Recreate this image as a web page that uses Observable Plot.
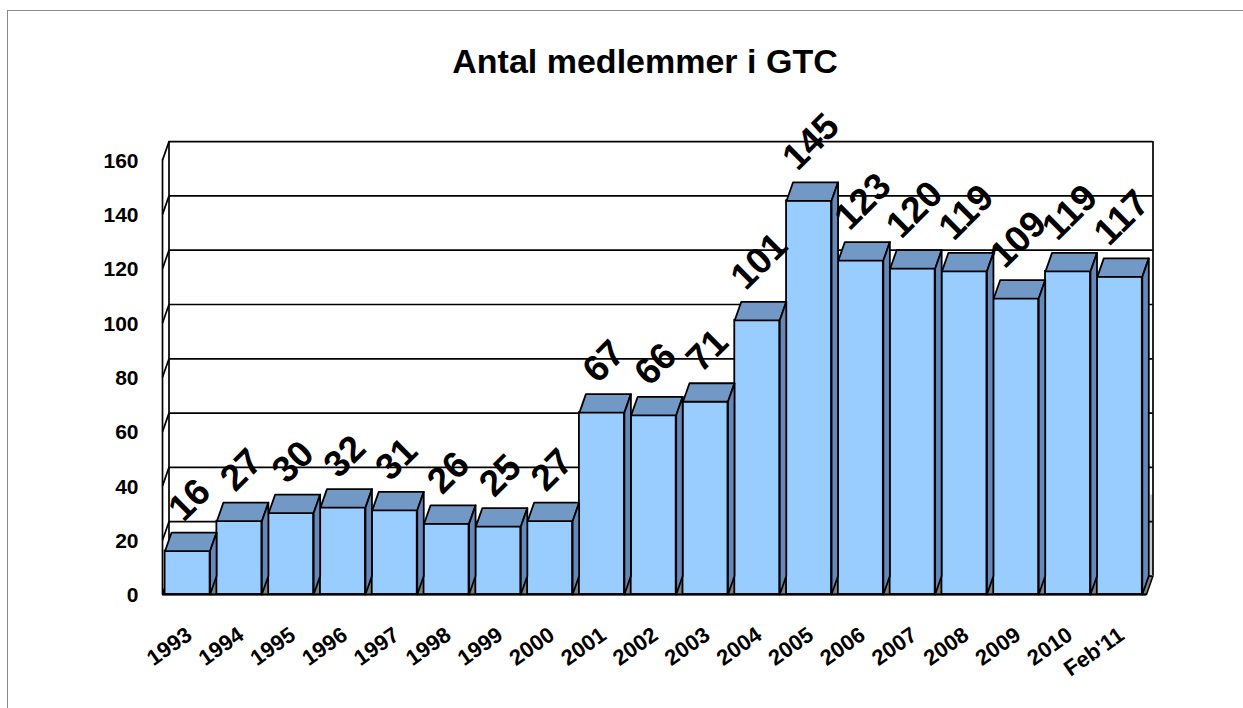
<!DOCTYPE html>
<html>
<head>
<meta charset="utf-8">
<script src="https://cdn.jsdelivr.net/npm/d3@7"></script>
<script src="https://cdn.jsdelivr.net/npm/@observablehq/plot@0.6"></script>
<style>
  html, body { margin: 0; padding: 0; overflow: hidden; background: white; }
  #wrap { position: relative; width: 1243px; height: 708px; font-family: Arial, "Liberation Sans", sans-serif; }
  #frame { position: absolute; left: 7px; top: 10px; width: 1250px; height: 720px; border-left: 1px solid #8a8a8a; border-top: 1px solid #8a8a8a; }
  #title { position: absolute; left: 245px; width: 800px; top: 44px; text-align: center; font-size: 34px; line-height: 34px; font-weight: bold; color: #000; z-index: 2; }
  #chart { position: absolute; left: 0; top: 0; z-index: 1; }
</style>
</head>
<body>
<div id="wrap">
  <div id="frame"></div>
  <div id="title">Antal medlemmer i GTC</div>
  <div id="chart"></div>
</div>
<script>
const categories = ["1993","1994","1995","1996","1997","1998","1999","2000","2001","2002","2003","2004","2005","2006","2007","2008","2009","2010","Feb'11"];
const members = [16,27,30,32,31,26,25,27,67,66,71,101,145,123,120,119,109,119,117];
const yTicks = [0,20,40,60,80,100,120,140,160];

const N = categories.length;
const pxPerX = (1146 - 162) / N;
const pxPerY = (594 - 159.6) / 160;
const DX = 6.5 / pxPerX;      // depth offset in x units
const DY = 18.5 / pxPerY;     // depth offset in y units
const GAP = 0.05, BW = 45 / pxPerX;

const bars = categories.map((c, i) => ({i, label: c, value: members[i], x1: i + GAP, x2: i + GAP + BW, cx: i + GAP + BW / 2}));

const topFaces = bars.flatMap(b => [
  {id: b.i, x: b.x1, y: b.value},
  {id: b.i, x: b.x2, y: b.value},
  {id: b.i, x: b.x2 + DX, y: b.value + DY},
  {id: b.i, x: b.x1 + DX, y: b.value + DY}
]);
const sideFaces = bars.flatMap(b => [
  {id: b.i, x: b.x2, y: 0},
  {id: b.i, x: b.x2 + DX, y: DY},
  {id: b.i, x: b.x2 + DX, y: b.value + DY},
  {id: b.i, x: b.x2, y: b.value}
]);
const floor = [
  {x: 0, y: 0}, {x: N, y: 0}, {x: N + DX, y: DY}, {x: DX, y: DY}
];
const rightStrip = [
  {x: N + DX - 0.06, y: DY}, {x: N + DX, y: DY}, {x: N + DX, y: 30 + DY}, {x: N + DX - 0.06, y: 30 + DY}
];

const font = "Arial, 'Liberation Sans', sans-serif";

const chart = Plot.plot({
  width: 1243,
  height: 708,
  marginLeft: 162, marginRight: 97, marginTop: 159.6, marginBottom: 114,
  style: {background: "transparent", fontFamily: font, overflow: "visible"},
  x: {domain: [0, N], range: [162, 1146], axis: null},
  y: {domain: [0, 160], range: [594, 159.6], axis: null},
  marks: [
    // floor
    Plot.line(floor, {x: "x", y: "y", curve: "linear-closed", fill: "#808080", stroke: "black", strokeWidth: 1.5}),
    Plot.line(rightStrip, {x: "x", y: "y", curve: "linear-closed", fill: "#c8c8c8", stroke: "none"}),
    // back wall gridlines
    Plot.ruleY(yTicks, {y: d => d + DY, x1: DX, x2: N + DX, stroke: "black", strokeWidth: 1.7}),
    Plot.ruleX([DX, N + DX], {x: d => d, y1: DY, y2: 160 + DY, stroke: "black", strokeWidth: 1.7}),
    // left wall
    Plot.ruleX([0], {x: d => d, y1: 0, y2: 160, stroke: "black", strokeWidth: 1.7}),
    Plot.link(yTicks, {x1: 0, y1: d => d, x2: DX, y2: d => d + DY, stroke: "black", strokeWidth: 1.7}),
    // bars
    Plot.rect(bars, {x1: "x1", x2: "x2", y1: 0, y2: "value", fill: "#99CCFF", stroke: "black", strokeWidth: 1.8}),
    Plot.line(topFaces, {x: "x", y: "y", z: "id", curve: "linear-closed", fill: "#7299C6", stroke: "black", strokeWidth: 1.8}),
    Plot.line(sideFaces, {x: "x", y: "y", z: "id", curve: "linear-closed", fill: "#6688B8", stroke: "black", strokeWidth: 1.8}),
    // front floor edge
    Plot.ruleY([0], {x1: 0, x2: N, stroke: "black", strokeWidth: 2.2}),
    // y axis labels
    Plot.text(yTicks, {x: 0, y: d => d, text: d => String(d), textAnchor: "end", dx: -24, dy: 1, fontSize: 21, fontWeight: "bold", fill: "black"}),
    // x axis labels
    Plot.text(bars, {x: "cx", y: 0, text: "label", rotate: -35, textAnchor: "end", lineAnchor: "top", dx: -3, dy: 31, fontSize: 22, fontWeight: "bold", fill: "black"}),
    // value labels
    Plot.text(bars.filter(b => String(b.value).length < 3), {x: "cx", y: "value", text: d => String(d.value), rotate: -45, textAnchor: "middle", lineAnchor: "middle", dx: 2, dy: -51, fontSize: 37, fontWeight: "bold", fill: "black"}),
    Plot.text(bars.filter(b => String(b.value).length >= 3), {x: "cx", y: "value", text: d => String(d.value), rotate: -45, textAnchor: "middle", lineAnchor: "middle", dx: 2, dy: -59, fontSize: 37, fontWeight: "bold", fill: "black"})
  ]
});
document.getElementById("chart").appendChild(chart);
</script>
</body>
</html>
